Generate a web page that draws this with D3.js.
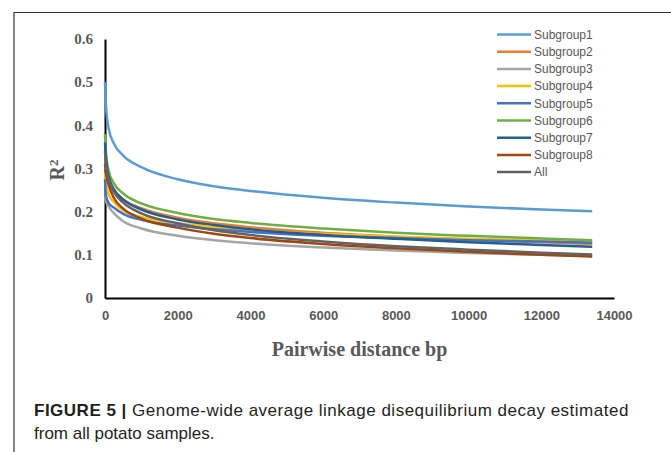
<!DOCTYPE html>
<html>
<head>
<meta charset="utf-8">
<script src="https://cdn.jsdelivr.net/npm/d3@7"></script>
<style>
  body { margin: 0; background: #fff; }
  svg { display: block; }
</style>
</head>
<body>
<div id="chart"></div>
<script>
// pairwise distance (bp) at which each curve was read
var distances = [0, 25, 100, 250, 500, 1000, 2000, 3000, 4000, 6000, 8000, 10000, 12000, 13400];

// R^2 values
var subgroup1 = [0.50, 0.447, 0.393, 0.357, 0.330, 0.303, 0.275, 0.259, 0.248, 0.232, 0.221, 0.212, 0.205, 0.201];
var subgroup2 = [0.31, 0.300, 0.275, 0.250, 0.229, 0.208, 0.186, 0.173, 0.164, 0.151, 0.142, 0.135, 0.129, 0.125];
var subgroup3 = [0.235, 0.225, 0.212, 0.196, 0.178, 0.161, 0.144, 0.134, 0.127, 0.117, 0.110, 0.104, 0.100, 0.097];
var subgroup4 = [0.29, 0.265, 0.240, 0.222, 0.203, 0.188, 0.173, 0.164, 0.157, 0.148, 0.142, 0.137, 0.133, 0.131];
var subgroup5 = [0.275, 0.238, 0.220, 0.209, 0.195, 0.181, 0.168, 0.159, 0.153, 0.144, 0.139, 0.134, 0.131, 0.128];
var subgroup6 = [0.38, 0.340, 0.295, 0.265, 0.242, 0.219, 0.197, 0.183, 0.174, 0.161, 0.151, 0.144, 0.138, 0.134];
var subgroup7 = [0.36, 0.327, 0.282, 0.251, 0.228, 0.205, 0.182, 0.169, 0.159, 0.146, 0.137, 0.129, 0.123, 0.119];
var subgroup8 = [0.31, 0.290, 0.262, 0.231, 0.207, 0.184, 0.163, 0.149, 0.139, 0.125, 0.115, 0.107, 0.100, 0.096];
var allSamples = [0.34, 0.310, 0.275, 0.245, 0.221, 0.196, 0.173, 0.157, 0.146, 0.131, 0.120, 0.112, 0.105, 0.101];

var seriesNames = ["Subgroup1", "Subgroup2", "Subgroup3", "Subgroup4", "Subgroup5", "Subgroup6", "Subgroup7", "Subgroup8", "All"];
var seriesValues = [subgroup1, subgroup2, subgroup3, subgroup4, subgroup5, subgroup6, subgroup7, subgroup8, allSamples];
var seriesColors = ["#5B9BD5", "#ED7D31", "#A5A5A5", "#FFC000", "#4472C4", "#70AD47", "#255E91", "#9E480E", "#636363"];

var xTicks = [0, 2000, 4000, 6000, 8000, 10000, 12000, 14000];
var yTicks = [0, 0.1, 0.2, 0.3, 0.4, 0.5, 0.6];

var W = 671, H = 452;
var plotLeft = 105, plotRight = 614, plotTop = 39, plotBottom = 298;

var svg = d3.select("#chart").append("svg")
    .attr("width", W)
    .attr("height", H);

// panel frame (top and left edges)
svg.append("path")
    .attr("d", "M14," + H + "V12.5H" + W)
    .attr("fill", "none")
    .attr("stroke", "#333")
    .attr("stroke-width", 1.2);

var x = d3.scaleLinear().domain([0, 14000]).range([plotLeft, plotRight]);
var y = d3.scaleLinear().domain([0, 0.6]).range([plotBottom, plotTop]);

var xAxis = svg.append("g")
    .attr("transform", "translate(0," + plotBottom + ")")
    .call(d3.axisBottom(x).tickValues(xTicks).tickSize(0).tickPadding(13).tickFormat(d3.format("d")));
xAxis.select(".domain").attr("stroke", "#000").attr("stroke-width", 2);
xAxis.selectAll("text")
    .style("font-family", "'Liberation Sans', Arial, sans-serif")
    .style("font-weight", "bold")
    .style("font-size", "13px")
    .attr("fill", "#595959");

var yAxis = svg.append("g")
    .attr("transform", "translate(" + plotLeft + ",0)")
    .call(d3.axisLeft(y).tickValues(yTicks).tickSize(0).tickPadding(12)
        .tickFormat(function(d) { return d === 0 ? "0" : d.toFixed(1); }));
yAxis.select(".domain").attr("stroke", "#000").attr("stroke-width", 2);
yAxis.selectAll("text")
    .style("font-family", "'Liberation Serif', 'Times New Roman', serif")
    .style("font-weight", "bold")
    .style("font-size", "15px")
    .attr("fill", "#595959");

// axis titles
svg.append("text")
    .attr("x", (plotLeft + plotRight) / 2)
    .attr("y", 356)
    .attr("text-anchor", "middle")
    .style("font-family", "'Liberation Serif', 'Times New Roman', serif")
    .style("font-weight", "bold")
    .style("font-size", "20px")
    .attr("fill", "#595959")
    .text("Pairwise distance bp");

var yTitle = svg.append("text")
    .attr("transform", "translate(64,170) rotate(-90)")
    .attr("text-anchor", "middle")
    .style("font-family", "'Liberation Serif', 'Times New Roman', serif")
    .style("font-weight", "bold")
    .style("font-size", "20px")
    .attr("fill", "#595959");
yTitle.append("tspan").text("R");
yTitle.append("tspan").attr("dy", "-0.45em").style("font-size", "13px").text("2");

// curves
var line = d3.line()
    .x(function(d, i) { return x(distances[i]); })
    .y(function(d) { return y(d); })
    .curve(d3.curveMonotoneX);

svg.selectAll(".curve")
    .data(seriesValues)
    .enter()
    .append("path")
    .attr("class", "curve")
    .attr("d", line)
    .attr("fill", "none")
    .attr("stroke", function(d, i) { return seriesColors[i]; })
    .attr("stroke-width", 2.5);

// legend
var legend = svg.selectAll(".legend")
    .data(seriesNames)
    .enter()
    .append("g")
    .attr("class", "legend")
    .attr("transform", function(d, i) { return "translate(497," + (34.5 + i * 17.2) + ")"; });

legend.append("line")
    .attr("x1", 0).attr("x2", 34)
    .attr("stroke", function(d, i) { return seriesColors[i]; })
    .attr("stroke-width", 2.5);

legend.append("text")
    .attr("x", 37)
    .attr("dy", "0.35em")
    .style("font-family", "'Liberation Sans', Arial, sans-serif")
    .style("font-size", "12px")
    .attr("fill", "#595959")
    .text(function(d) { return d; });

// caption
var caption = svg.append("text")
    .attr("x", 34)
    .attr("y", 416)
    .style("font-family", "'Liberation Sans', Arial, sans-serif")
    .style("font-size", "17px")
    .style("letter-spacing", "0.5px")
    .attr("fill", "#231f20");
caption.append("tspan").style("font-weight", "bold").text("FIGURE 5 | ");
caption.append("tspan").text("Genome-wide average linkage disequilibrium decay estimated");

svg.append("text")
    .attr("x", 34)
    .attr("y", 439)
    .style("font-family", "'Liberation Sans', Arial, sans-serif")
    .style("font-size", "17px")
    .attr("fill", "#231f20")
    .text("from all potato samples.");
</script>
</body>
</html>
